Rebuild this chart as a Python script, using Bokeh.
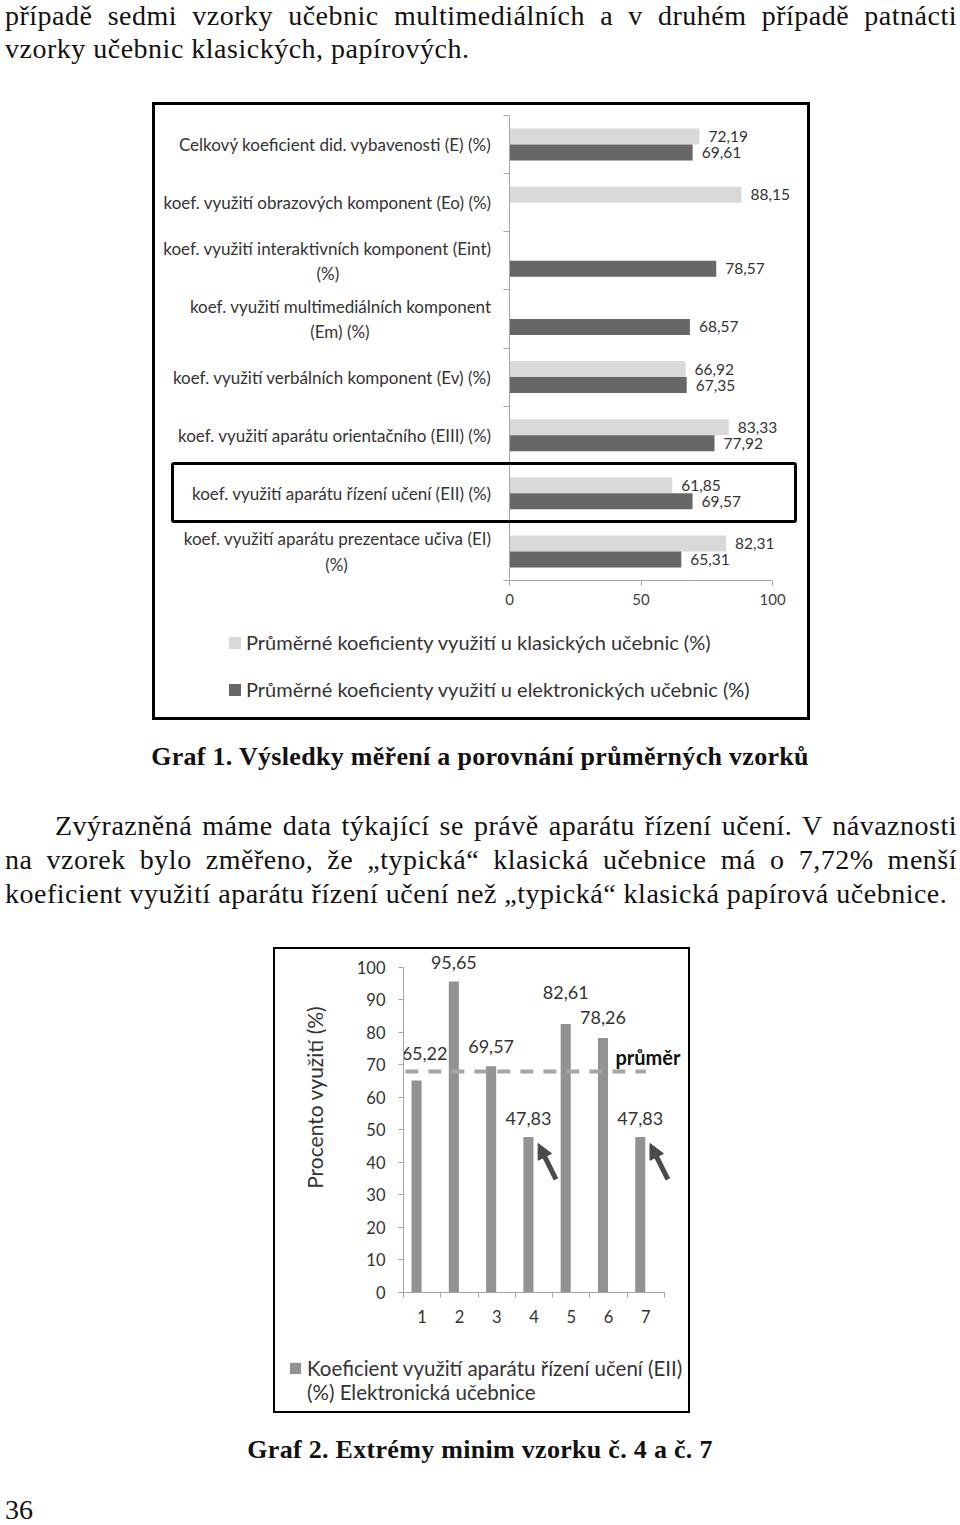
import math
from bokeh.plotting import figure
from bokeh.models import (ColumnDataSource, Range1d, FixedTicker, Legend,
                          LegendItem, Label, Arrow, NormalHead, Div, Spacer)
from bokeh.layouts import column, row
from bokeh.embed import file_html
from bokeh.resources import INLINE
from bokeh.core.properties import value

# ---------------- page texts ----------------
text_top_lines = ["případě sedmi vzorky učebnic multimediálních a v druhém případě patnácti",
                  "vzorky učebnic klasických, papírových."]
caption1 = "Graf 1. Výsledky měření a porovnání průměrných vzorků"
paragraph_lines = [
    "Zvýrazněná máme data týkající se právě aparátu řízení učení. V návaznosti",
    "na vzorek bylo změřeno, že \u201etypická\u201c klasická učebnice má o 7,72% menší",
    "koeficient využití aparátu řízení učení než \u201etypická\u201c klasická papírová učebnice.",
]
caption2 = "Graf 2. Extrémy minim vzorku č. 4 a č. 7"
page_number = "36"

# ---------------- Graf 1 data ----------------
categories1 = [
    ["Celkový koeficient did. vybavenosti (E) (%)"],
    ["koef. využití obrazových komponent (Eo) (%)"],
    ["koef. využití interaktivních komponent (Eint)", "(%)"],
    ["koef. využití multimediálních komponent", "(Em) (%)"],
    ["koef. využití verbálních komponent (Ev) (%)"],
    ["koef. využití aparátu orientačního (EIII) (%)"],
    ["koef. využití aparátu řízení učení (EII) (%)"],
    ["koef. využití aparátu prezentace učiva (EI)", "(%)"],
]
classic = [72.19, 88.15, None, None, 66.92, 83.33, 61.85, 82.31]
electronic = [69.61, None, 78.57, 68.57, 67.35, 77.92, 69.57, 65.31]
series1 = ["Průměrné koeficienty využití u klasických učebnic (%)",
           "Průměrné koeficienty využití u elektronických učebnic (%)"]
x_ticks1 = [0, 50, 100]

# ---------------- Graf 2 data ----------------
samples = [1, 2, 3, 4, 5, 6, 7]
eii_values = [65.22, 95.65, 69.57, 47.83, 82.61, 78.26, 47.83]
average_line = 68.0
minima = [4, 7]
y_ticks2 = list(range(0, 101, 10))
series2 = ["Koeficient využití aparátu řízení učení (EII)", "(%) Elektronická učebnice"]
y_label2 = "Procento využití (%)"
avg_text = "průměr"

# ---------------- style-only settings ----------------
second_line_pad = {2: 35, 3: 28, 7: 33}      # nbsp padding to centre 2nd label lines
y_label_shift = 9                            # nbsp padding to lift the rotated axis title
label_dx2 = [8, 0, 0, 0, 0, 0, 0]            # px
label_dy2 = [27, 19, 20, 19, 31, 21, 19]     # px

LIGHT = "#d9d9d9"
DARK = "#676767"
MID = "#929292"
AXIS = "#a6a6a6"
TXT = "#333333"
FONT = "Lato"


def nan(v):
    return float("nan") if v is None else v


def fmt(v):
    return f"{v:.2f}".replace(".", ",")


def cat_label(i, parts):
    if len(parts) == 1:
        return parts[0]
    return parts[0] + "\n" + parts[1] + "\u00a0" * second_line_pad.get(i, 0)


def no_frame_align(f):
    try:
        f.frame_align = False
    except Exception:
        pass


def legend_figure(width, height):
    f = figure(width=width, height=height, x_range=Range1d(0, 1), y_range=Range1d(0, 1),
               output_backend="svg", toolbar_location=None, x_axis_type=None, y_axis_type=None,
               min_border=0, min_border_left=0, min_border_right=0,
               min_border_top=0, min_border_bottom=0)
    f.outline_line_color = None
    f.grid.visible = False
    no_frame_align(f)
    return f


# ================= Graf 1 =================
n1 = len(categories1)
centers1 = [n1 - 0.5 - i for i in range(n1)]
bar_h = 0.275

p1 = figure(width=658, height=510, x_range=Range1d(0, 110.6), y_range=Range1d(0, n1),
            output_backend="svg", toolbar_location=None,
            min_border_left=357, min_border_right=10, min_border_top=13, min_border_bottom=32)
p1.outline_line_color = None
p1.grid.visible = False
no_frame_align(p1)

src_c = ColumnDataSource(dict(y=[c + bar_h / 2 for c in centers1], right=[nan(v) for v in classic]))
src_e = ColumnDataSource(dict(y=[c - bar_h / 2 for c in centers1], right=[nan(v) for v in electronic]))
p1.hbar(y="y", right="right", left=0, height=bar_h, source=src_c, fill_color=LIGHT, line_color=None)
p1.hbar(y="y", right="right", left=0, height=bar_h, source=src_e, fill_color=DARK, line_color=None)

lx, ly, lt = [], [], []
for c, vc, ve in zip(centers1, classic, electronic):
    if vc is not None:
        lx.append(vc); ly.append(c + bar_h / 2); lt.append(fmt(vc))
    if ve is not None:
        lx.append(ve); ly.append(c - bar_h / 2); lt.append(fmt(ve))
p1.text(x=lx, y=ly, text=lt, x_offset=9, text_align="left", text_baseline="middle",
        text_font=value(FONT), text_font_size=value("15.5px"), text_color=TXT)

ya = p1.yaxis[0]
ya.ticker = FixedTicker(ticks=centers1, minor_ticks=list(range(0, n1 + 1)))
ya.major_label_overrides = {c: cat_label(i, parts) for i, (c, parts) in enumerate(zip(centers1, categories1))}
ya.major_tick_line_color = None
ya.major_tick_out = 6
ya.major_tick_in = 0
ya.minor_tick_line_color = AXIS
ya.minor_tick_out = 6
ya.minor_tick_in = 0
ya.axis_line_color = AXIS
ya.major_label_standoff = 12
ya.major_label_text_font = FONT
ya.major_label_text_font_size = "17px"
ya.major_label_text_color = TXT

xa = p1.xaxis[0]
xa.ticker = FixedTicker(ticks=x_ticks1, minor_ticks=[])
xa.bounds = (0, 100)
xa.major_tick_out = 5
xa.major_tick_in = 0
xa.major_tick_line_color = AXIS
xa.axis_line_color = AXIS
xa.major_label_standoff = 8
xa.major_label_text_font = FONT
xa.major_label_text_font_size = "15px"
xa.major_label_text_color = "#404040"

# legend strip of Graf 1 (same styles as the bars above)
lf1 = legend_figure(658, 108)
k_c = lf1.hbar(y=[-5], right=[-5], left=[-6], height=0.1, fill_color=LIGHT, line_color=None)
k_e = lf1.hbar(y=[-5], right=[-5], left=[-6], height=0.1, fill_color=DARK, line_color=None)
lf1.add_layout(Legend(items=[LegendItem(label=series1[0], renderers=[k_c]),
                             LegendItem(label=series1[1], renderers=[k_e])],
                      location=(75, 19), orientation="vertical",
                      glyph_width=15, glyph_height=15, label_standoff=4, spacing=23,
                      padding=0, margin=0, border_line_color=None, background_fill_alpha=0,
                      label_text_font=FONT, label_text_font_size="20px", label_text_color=TXT))

# ================= Graf 2 =================
p2 = figure(width=417, height=383, x_range=Range1d(0.5, 8.143), y_range=Range1d(0, 105.2),
            output_backend="svg", toolbar_location=None,
            min_border_left=130, min_border_right=2, min_border_top=3, min_border_bottom=38)
p2.outline_line_color = None
p2.grid.visible = False
no_frame_align(p2)

bar_x = [s - 0.15 for s in samples]
src2 = ColumnDataSource(dict(x=bar_x, top=eii_values, text=[fmt(v) for v in eii_values],
                             dx=label_dx2, dy=[-d for d in label_dy2]))
p2.vbar(x="x", top="top", width=0.27, source=src2, fill_color=MID, line_color=None)
p2.text(x="x", y="top", text="text", x_offset="dx", y_offset="dy", source=src2,
        text_align="center", text_baseline="middle",
        text_font=value(FONT), text_font_size=value("18px"), text_color=TXT)

p2.segment(x0=[samples[0] - 0.45], y0=[average_line], x1=[samples[-1]], y1=[average_line],
           line_color=AXIS, line_width=4, line_dash="13 10")
p2.add_layout(Label(x=6.185, y=average_line + 4.3, text=avg_text, text_align="left",
                    text_baseline="middle", text_font=FONT, text_font_style="bold",
                    text_font_size="20px", text_color="#111111"))

ARROW = "#4a4a4a"
for k in minima:
    v = eii_values[samples.index(k)]
    p2.add_layout(Arrow(x_start=k + 0.59, y_start=v - 13, x_end=k + 0.11, y_end=v - 2,
                        line_width=5, line_color=ARROW,
                        end=NormalHead(size=15, fill_color=ARROW, line_color=ARROW)))

ya2 = p2.yaxis[0]
ya2.ticker = FixedTicker(ticks=y_ticks2, minor_ticks=[])
ya2.bounds = (0, 100)
ya2.major_tick_out = 5
ya2.major_tick_in = 0
ya2.major_tick_line_color = AXIS
ya2.axis_line_color = AXIS
ya2.major_label_standoff = 13
ya2.major_label_text_font = FONT
ya2.major_label_text_font_size = "16.5px"
ya2.major_label_text_color = TXT
ya2.axis_label = "\u00a0" * y_label_shift + y_label2
ya2.axis_label_text_font = FONT
ya2.axis_label_text_font_style = "normal"
ya2.axis_label_text_font_size = "21px"
ya2.axis_label_text_color = TXT
ya2.axis_label_standoff = 27

xa2 = p2.xaxis[0]
xa2.ticker = FixedTicker(ticks=samples, minor_ticks=[s - 0.5 for s in samples] + [samples[-1] + 0.5])
xa2.bounds = (0.5, 7.5)
xa2.major_tick_line_color = None
xa2.major_tick_out = 5
xa2.major_tick_in = 0
xa2.minor_tick_line_color = AXIS
xa2.minor_tick_out = 5
xa2.minor_tick_in = 0
xa2.axis_line_color = AXIS
xa2.major_label_standoff = 12
xa2.major_label_text_font = FONT
xa2.major_label_text_font_size = "16.5px"
xa2.major_label_text_color = TXT

lf2 = legend_figure(417, 83)
k2 = lf2.vbar(x=[-5], top=[-5], bottom=[-6], width=0.1, fill_color=MID, line_color=None)
k2b = lf2.vbar(x=[-5], top=[-5], bottom=[-6], width=0.1, fill_alpha=0, line_alpha=0)
lf2.add_layout(Legend(items=[LegendItem(label=series2[0], renderers=[k2]),
                             LegendItem(label=series2[1], renderers=[k2b])],
                      location=(15, 9), orientation="vertical",
                      glyph_width=14, glyph_height=14, label_standoff=5, spacing=-2,
                      padding=0, margin=0, border_line_color=None, background_fill_alpha=0,
                      label_text_font=FONT, label_text_font_size="20.5px", label_text_color=TXT))

# ================= page text blocks =================
SERIF = "font-family:'Liberation Serif','Times New Roman',serif;color:#111;"


def line(txt, top, left, width, size=28, lh=33, bold=False, align="left", ls=0.5):
    al = ("text-align:justify;text-align-last:justify;" if align == "justify"
          else f"text-align:{align};")
    return (f"<div style=\"position:absolute;top:{top}px;left:{left}px;width:{width}px;"
            f"{SERIF}font-size:{size}px;line-height:{lh}px;letter-spacing:{ls}px;white-space:normal;"
            f"font-weight:{'bold' if bold else 'normal'};{al}\">{txt}</div>")


def frame_box(left, top, w, h, bw, radius=0):
    return (f"<div style=\"position:absolute;left:{left}px;top:{top}px;width:{w}px;height:{h}px;"
            f"box-sizing:border-box;border:{bw}px solid #000;border-radius:{radius}px;"
            f"z-index:100;pointer-events:none;\"></div>")


def block(h, inner):
    return f"<div style=\"position:relative;width:944px;height:{h}px;\">{inner}</div>"


div1 = Div(text=block(94, line(text_top_lines[0], -9.5, -3, 952, align="justify") +
                      line(text_top_lines[1], 24, -3, 952)),
           width=944, height=94, margin=0)
div2 = Div(text=block(227, line(caption1, 19.5, -1, 946, size=26, bold=True, align="center", ls=0.3) +
                      line(paragraph_lines[0], 89, 47, 902, lh=34, align="justify") +
                      line(paragraph_lines[1], 123, -3, 952, lh=34, align="justify") +
                      line(paragraph_lines[2], 157, -3, 952, lh=34)),
           width=944, height=227, margin=0)
# div3 also carries the chart frames (drawn over the figures above it)
div3 = Div(text=block(96, line(caption2, 19.5, -1, 946, size=26, bold=True, align="center", ls=0.3) +
                      line(page_number, 83, -3, 100, lh=28, ls=0) +
                      frame_box(144, -1311, 658, 618, 3) +
                      frame_box(163, -951, 626, 61, 3, radius=3) +
                      frame_box(265, -466, 417, 466, 2)),
           width=944, height=96, margin=0)

inner = column(
    div1,
    row(Spacer(width=144, height=510, margin=0), p1, margin=0),
    row(Spacer(width=144, height=108, margin=0), lf1, margin=0),
    div2,
    row(Spacer(width=265, height=383, margin=0), p2, margin=0),
    row(Spacer(width=265, height=83, margin=0), lf2, margin=0),
    div3,
    margin=0, spacing=0,
)
layout = column(Spacer(width=952, height=8, margin=0),
                row(Spacer(width=8, height=1501, margin=0), inner, margin=0),
                margin=0, spacing=0)

open("out.html", "w").write(file_html(layout, INLINE))
